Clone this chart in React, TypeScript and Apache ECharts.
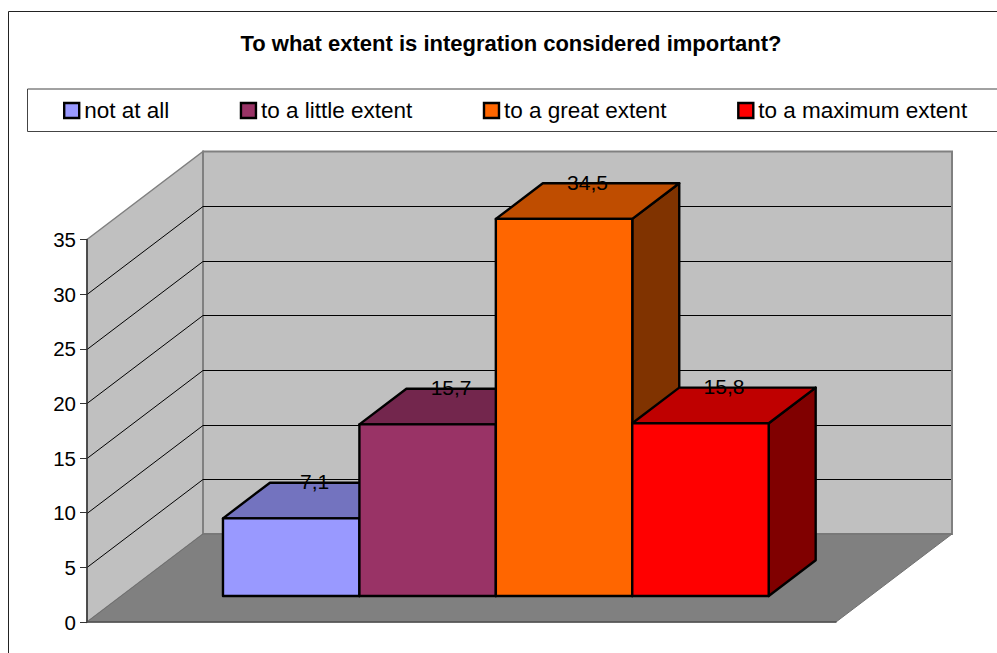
import React, { useEffect, useRef } from "react";
import * as echarts from "echarts";

const titleText = "To what extent is integration considered important?";
const categories = ["not at all", "to a little extent", "to a great extent", "to a maximum extent"];
const values = [7.1, 15.7, 34.5, 15.8];
const valueLabels = ["7,1", "15,7", "34,5", "15,8"];
const frontColors = ["#9999FF", "#993366", "#FF6600", "#FF0000"];
const topColors = ["#7373BF", "#73264D", "#BF4D00", "#BF0000"];
const sideColors = ["#4D4D80", "#4D1A33", "#803300", "#800000"];
const yTicks = [0, 5, 10, 15, 20, 25, 30, 35];

const FONT = '"Liberation Sans", Arial, sans-serif';
const DX = 116;
const DY = 88;
const BAR_PLANE = 0.296;
const BAR_DEPTH = 0.405;
const GAP_RATIO = 5.49;

function renderWalls(_p: any, api: any) {
  const half = api.size([1, 0])[0] / 2;
  const cx = api.coord([0, 0])[0];
  const left = cx - half;
  const right = cx + half;
  const y0 = api.coord([0, 0])[1];
  const yTop = api.coord([0, 35])[1];
  const children: any[] = [
    {
      type: "polygon",
      shape: { points: [[left, yTop], [left + DX, yTop - DY], [left + DX, y0 - DY], [left, y0]] },
      style: { fill: "#C0C0C0", stroke: "#808080", lineWidth: 1.5 },
    },
    {
      type: "polygon",
      shape: { points: [[left + DX, yTop - DY], [right + DX, yTop - DY], [right + DX, y0 - DY], [left + DX, y0 - DY]] },
      style: { fill: "#C0C0C0", stroke: "#808080", lineWidth: 2 },
    },
    {
      type: "polygon",
      shape: { points: [[left, y0], [left + DX, y0 - DY], [right + DX, y0 - DY], [right, y0]] },
      style: { fill: "#808080", stroke: "#707070", lineWidth: 1 },
    },
  ];
  yTicks.slice(1, -1).forEach((t) => {
    const y = Math.round(api.coord([0, t])[1]) + 0.5;
    children.push({
      type: "polyline",
      shape: { points: [[left, y], [left + DX, y - DY], [right + DX - 1, y - DY]] },
      style: { fill: "none", stroke: "#000", lineWidth: 1 },
    });
  });
  return { type: "group", children };
}

function makeBar(i: number) {
  return (_p: any, api: any) => {
    const band = api.size([1, 0])[0];
    const w = band / GAP_RATIO;
    const c = api.coord([0, api.value(1)]);
    const base = api.coord([0, 0]);
    const sx = BAR_PLANE * DX;
    const sy = BAR_PLANE * DY;
    const x0 = c[0] + (i - 2) * w + sx;
    const x1 = x0 + w;
    const yB = base[1] - sy;
    const yT = c[1] - sy;
    const ddx = BAR_DEPTH * DX;
    const ddy = BAR_DEPTH * DY;
    const border = { stroke: "#000", lineWidth: 2.4, lineJoin: "round" };
    return {
      type: "group",
      children: [
        {
          type: "polygon",
          shape: { points: [[x1, yT], [x1 + ddx, yT - ddy], [x1 + ddx, yB - ddy], [x1, yB]] },
          style: { fill: sideColors[i], ...border },
        },
        {
          type: "polygon",
          shape: { points: [[x0, yT], [x0 + ddx, yT - ddy], [x1 + ddx, yT - ddy], [x1, yT]] },
          style: { fill: topColors[i], ...border },
        },
        {
          type: "rect",
          shape: { x: x0, y: yT, width: w, height: yB - yT },
          style: { fill: frontColors[i], ...border },
        },
        {
          type: "text",
          style: {
            text: valueLabels[i],
            x: x0 + w / 2 + ddx / 2,
            y: yT - ddy - 1,
            align: "center",
            verticalAlign: "middle",
            fill: "#000",
            font: `21px ${FONT}`,
          },
        },
      ],
    };
  };
}

export default function App() {
  const ref = useRef<HTMLDivElement>(null);
  useEffect(() => {
    const chart = echarts.init(ref.current!, undefined, { renderer: "svg" });
    chart.setOption({
      animation: false,
      backgroundColor: "#FFFFFF",
      textStyle: { fontFamily: FONT },
      title: {
        text: titleText,
        left: 506,
        top: 27,
        textAlign: "center",
        textStyle: { fontFamily: FONT, fontSize: 22, fontWeight: "bold", color: "#000" },
      },
      legend: {
        left: 63,
        top: 99,
        itemWidth: 15,
        itemHeight: 15,
        itemGap: 70.5,
        padding: 0,
        icon: "rect",
        selectedMode: false,
        data: categories.map((name, i) => ({
          name,
          itemStyle: { color: frontColors[i], borderColor: "#000", borderWidth: 2.4 },
        })),
        textStyle: { fontFamily: FONT, fontSize: 22.5, color: "#000", padding: [0, 0, 0, 0] },
      },
      grid: { left: 87, top: 239.5, width: 749, height: 382.5 },
      xAxis: {
        type: "category",
        data: [""],
        z: 4,
        axisLine: { lineStyle: { color: "#505050", width: 1.5 } },
        axisTick: { show: false },
        axisLabel: { show: false },
      },
      yAxis: {
        type: "value",
        min: 0,
        max: 35,
        interval: 5,
        z: 4,
        axisLine: { show: true, lineStyle: { color: "#333", width: 1.5 } },
        axisTick: { show: true, length: 7, lineStyle: { color: "#333", width: 1 } },
        axisLabel: { fontFamily: FONT, fontSize: 20.5, color: "#000", margin: 11 },
        splitLine: { show: false },
      },
      graphic: [
        {
          type: "polyline",
          z: -1,
          shape: { points: [[997, 11.5], [8.5, 11.5], [8.5, 653]] },
          style: { fill: "none", stroke: "#222", lineWidth: 1 },
        },
        {
          type: "polyline",
          z: -1,
          shape: { points: [[997, 89], [27.5, 89], [27.5, 131.5], [997, 131.5]] },
          style: { fill: "none", stroke: "#444", lineWidth: 1 },
        },
      ],
      series: [
        {
          type: "custom",
          name: "walls",
          silent: true,
          renderItem: renderWalls,
          data: [[0, 35]],
          clip: false,
          z: 1,
        },
        ...categories.map((name, i) => ({
          type: "custom",
          name,
          silent: true,
          renderItem: makeBar(i),
          encode: { x: 0, y: 1 },
          data: [[0, values[i]]],
          itemStyle: { color: frontColors[i] },
          clip: false,
          z: 2 + i,
        })),
      ],
    });
    return () => chart.dispose();
  }, []);
  return <div ref={ref} style={{ position: "absolute", left: 0, top: 0, width: 997, height: 653 }} />;
}
